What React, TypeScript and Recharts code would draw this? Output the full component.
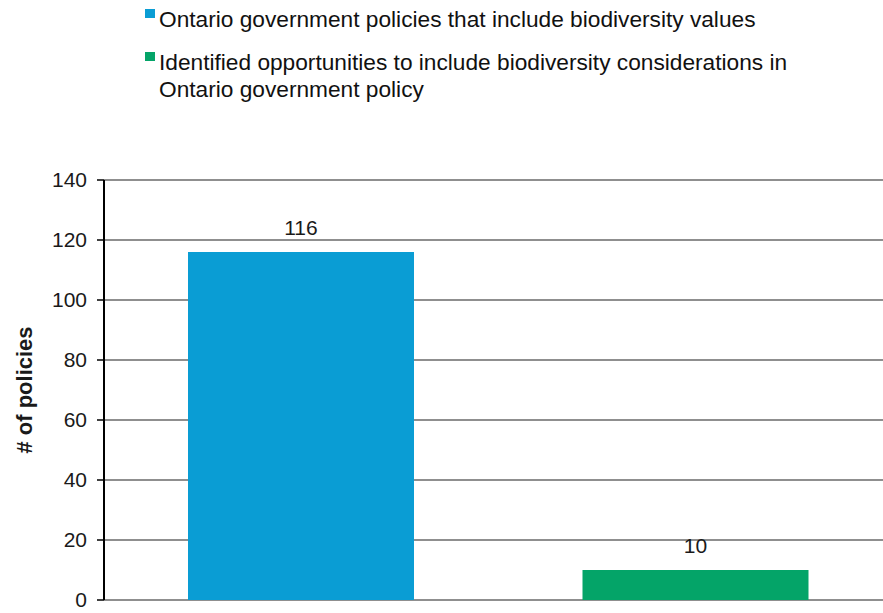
import React from "react";
import { BarChart, Bar, XAxis, YAxis, CartesianGrid, Cell, LabelList } from "recharts";

const categories = [
  "Ontario government policies that include biodiversity values",
  "Identified opportunities to include biodiversity considerations in Ontario government policy",
];
const counts = [116, 10];
const colors = ["#0A9DD4", "#04A468"];
const yTicks = [0, 20, 40, 60, 80, 100, 120, 140];

const data = categories.map((name, i) => ({ name, value: counts[i] }));

const FONT = "'Liberation Sans', Arial, Helvetica, sans-serif";

// legend drawn outside the svg so it doesn't eat plot height
function LegendBox() {
  return (
    <div
      style={{
        position: "absolute",
        left: 145,
        top: 6,
        fontFamily: FONT,
        fontSize: 22.7,
        lineHeight: "27px",
        color: "#111",
      }}
    >
      {categories.map((c, i) => (
        <div key={c} style={{ display: "flex", alignItems: "flex-start", marginBottom: i === 0 ? 16 : 0 }}>
          <span
            style={{
              display: "inline-block",
              width: 10,
              height: 9,
              background: colors[i],
              marginTop: 3,
              marginRight: 4,
              flex: "none",
            }}
          />
          <span style={{ maxWidth: 680 }}>{c}</span>
        </div>
      ))}
    </div>
  );
}

export default function App() {
  return (
    <div style={{ position: "absolute", left: 0, top: 0, width: 883, height: 613, overflow: "hidden", background: "#fff" }}>
      <LegendBox />
      <BarChart
        width={893}
        height={613}
        data={data}
        margin={{ top: 180, right: 0, bottom: 13, left: 0 }}
        style={{ fontFamily: FONT }}
      >
        <CartesianGrid vertical={false} stroke="#8f8f8f" strokeWidth={2} />
        <XAxis dataKey="name" hide />
        <YAxis
          width={104}
          domain={[0, 140]}
          ticks={yTicks}
          interval={0}
          axisLine={{ stroke: "#000", strokeWidth: 2 }}
          tickLine={{ stroke: "#000", strokeWidth: 1.5 }}
          tickSize={7}
          tickMargin={10}
          tick={{ fontSize: 21, fill: "#1a1a1a" }}
          label={{
            value: "# of policies",
            angle: -90,
            position: "insideLeft",
            offset: 24,
            style: { textAnchor: "middle", fontSize: 22, fontWeight: "bold", fill: "#1a1a1a" },
          }}
        />
        <Bar dataKey="value" barSize={226} isAnimationActive={false}>
          {data.map((d, i) => (
            <Cell key={d.name} fill={colors[i]} />
          ))}
          <LabelList dataKey="value" position="top" offset={17} style={{ fontSize: 21, fill: "#1a1a1a" }} />
        </Bar>
      </BarChart>
    </div>
  );
}
